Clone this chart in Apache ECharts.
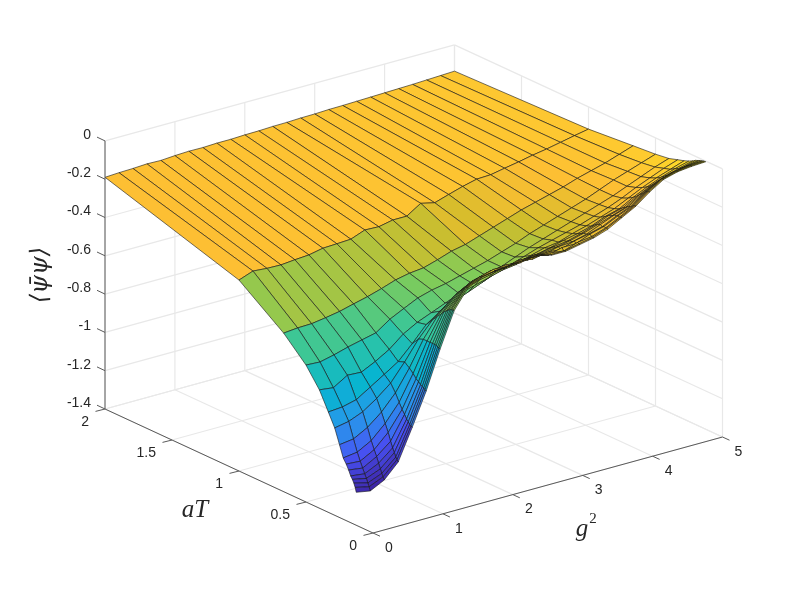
<!DOCTYPE html>
<html><head><meta charset="utf-8">
<style>html,body{margin:0;padding:0;background:#fff}#c{width:797px;height:598px}</style>
<script src="https://cdn.jsdelivr.net/npm/echarts@6/dist/echarts.min.js"></script>
</head><body><div id="c"></div>
<script>
const g2Values=[0,0.2,0.4,0.6,0.8,1,1.2,1.4,1.6,1.8,2,2.2,2.4,2.6,2.8,3,3.2,3.4,3.6,3.8,4,4.2,4.4,4.6,4.8,5];
const aTValues=[2,1,0.6667,0.5,0.4,0.3333,0.2857,0.25,0.2222,0.2,0.1818,0.1667,0.1538,0.1429,0.1333,0.125];
const zN1=[-.19,-.186,-.184,-.180,-.182,-.177,-.174,-.175,-.172,-.172,-.169,-.168,-.165,-.164,-.161,-.160,-.157,-.156,-.154,-.152,-.150,-.148,-.146,-.143,-.140,-.137];
const zN2=[-.403,-.376,-.382,-.384,-.377,-.372,-.357,-.354,-.35,-.322,-.325,-.31,-.31,-.263,-.28,-.257,-.235,-.217,-.214,-.20,-.187,-.172,-.16,-.145,-.13,-.116];
const zN3=[-.572,-.565,-.563,-.552,-.539,-.52,-.502,-.48,-.455,-.44,-.432,-.41,-.385,-.37,-.345,-.32,-.295,-.27,-.25,-.23,-.21,-.185,-.165,-.145,-.12,-.095];
const zN4=[-.685,-.689,-.672,-.651,-.634,-.617,-.566,-.53,-.495,-.474,-.46,-.44,-.42,-.40,-.375,-.35,-.32,-.295,-.27,-.245,-.22,-.19,-.16,-.135,-.11,-.085];
const zN5=[-.782,-.791,-.746,-.75,-.714,-.671,-.611,-.57,-.54,-.51,-.48,-.45,-.43,-.40,-.37,-.34,-.315,-.29,-.265,-.24,-.215,-.19,-.16,-.13,-.10,-.075];
const zN6=[-.876,-.87,-.852,-.806,-.76,-.713,-.64,-.56,-.51,-.48,-.45,-.42,-.39,-.37,-.345,-.32,-.30,-.28,-.26,-.235,-.21,-.18,-.145,-.115,-.085,-.06];
const zN7=[-.944,-.93,-.90,-.85,-.79,-.70,-.60,-.52,-.46,-.42,-.40,-.38,-.36,-.35,-.325,-.305,-.295,-.27,-.25,-.225,-.20,-.165,-.13,-.10,-.075,-.05];
const zN8=[-1.02,-1.01,-.97,-.91,-.83,-.72,-.59,-.49,-.42,-.385,-.36,-.345,-.33,-.32,-.31,-.295,-.275,-.26,-.24,-.21,-.19,-.15,-.115,-.085,-.06,-.04];
const zN9=[-1.08,-1.07,-1.03,-.96,-.87,-.74,-.59,-.47,-.39,-.35,-.33,-.32,-.315,-.30,-.295,-.28,-.27,-.25,-.225,-.195,-.175,-.135,-.10,-.07,-.05,-.03];
const zN10=[-1.105,-1.11,-1.07,-1.00,-.90,-.76,-.59,-.45,-.37,-.33,-.31,-.305,-.295,-.30,-.285,-.275,-.26,-.24,-.215,-.19,-.165,-.12,-.085,-.06,-.04,-.02];
const zN11=[-1.13,-1.14,-1.10,-1.04,-.92,-.77,-.59,-.44,-.355,-.32,-.30,-.285,-.29,-.28,-.285,-.265,-.26,-.24,-.21,-.18,-.155,-.11,-.07,-.045,-.03,-.015];
const zN12=[-1.156,-1.165,-1.13,-1.07,-.94,-.78,-.59,-.43,-.345,-.31,-.285,-.29,-.27,-.285,-.27,-.275,-.25,-.235,-.215,-.18,-.15,-.10,-.06,-.035,-.02,-.01];
const zN13=[-1.17,-1.185,-1.155,-1.09,-.95,-.785,-.59,-.425,-.335,-.30,-.28,-.27,-.28,-.26,-.28,-.26,-.26,-.23,-.21,-.175,-.145,-.09,-.05,-.025,-.015,-.008];
const zN14=[-1.186,-1.205,-1.175,-1.11,-.96,-.79,-.595,-.42,-.325,-.29,-.27,-.275,-.26,-.265,-.265,-.275,-.25,-.24,-.215,-.178,-.14,-.085,-.04,-.02,-.01,-.005];
const zN15=[-1.205,-1.222,-1.19,-1.12,-.965,-.795,-.597,-.42,-.322,-.288,-.275,-.268,-.262,-.255,-.27,-.27,-.255,-.24,-.213,-.176,-.137,-.082,-.037,-.017,-.008,-.004];
const zN16=[-1.228,-1.241,-1.204,-1.13,-.97,-.80,-.60,-.42,-.32,-.285,-.27,-.265,-.255,-.25,-.27,-.27,-.255,-.24,-.215,-.175,-.135,-.08,-.035,-.015,-.007,-.003];
const zRows=[zN1,zN2,zN3,zN4,zN5,zN6,zN7,zN8,zN9,zN10,zN11,zN12,zN13,zN14,zN15,zN16];
const g2Ticks=[0,1,2,3,4,5];
const aTTicks=[0,0.5,1,1.5,2];
const zTicks=[0,-0.2,-0.4,-0.6,-0.8,-1,-1.2,-1.4];
const zBottom=-1.4, g2Max=5, aTMax=2;

const view={ox:373,oy:533,gx:69.9,gy:-19.2,ax:-134,ay:-62,zy:-191.5};
const proj=(g,a,z)=>[view.ox+view.gx*g+view.ax*a, view.oy+view.gy*g+view.ay*a+view.zy*(z-zBottom)];

const parula=[[0,.2422,.1504,.6603],[.125,.2810,.3228,.9579],[.25,.1540,.5902,.9218],[.375,.0297,.7082,.8163],[.5,.1938,.7758,.6251],[.625,.5044,.7993,.3480],[.74,.8200,.7406,.1696],[.82,.9900,.7450,.2000],[.875,.9950,.7900,.1885],[1,.9769,.9839,.0805]];
const cMin=-1.22,cMax=0.03;
function colorOf(z){
  const t=Math.max(0,Math.min(1,(z-cMin)/(cMax-cMin)));
  let i=0; while(i<parula.length-2 && parula[i+1][0]<t) i++;
  const f=(t-parula[i][0])/(parula[i+1][0]-parula[i][0]);
  const c=[1,2,3].map(k=>Math.round(255*(parula[i][k]+(parula[i+1][k]-parula[i][k])*f)));
  return `rgb(${c[0]},${c[1]},${c[2]})`;
}

const quads=[];
for(let r=0;r<aTValues.length-1;r++){
  for(let c=g2Values.length-2;c>=0;c--){
    quads.push([g2Values[c],g2Values[c+1],aTValues[r],aTValues[r+1],zRows[r][c],zRows[r][c+1],zRows[r+1][c+1],zRows[r+1][c]]);
  }
}
const wallLines=[];
g2Ticks.forEach(g=>{wallLines.push([g,0,zBottom,g,aTMax,zBottom]);wallLines.push([g,aTMax,zBottom,g,aTMax,0]);});
aTTicks.forEach(a=>{wallLines.push([0,a,zBottom,g2Max,a,zBottom]);wallLines.push([g2Max,a,zBottom,g2Max,a,0]);});
zTicks.forEach(z=>{wallLines.push([0,aTMax,z,g2Max,aTMax,z]);wallLines.push([g2Max,0,z,g2Max,aTMax,z]);});
const axisLines=[[0,0,zBottom,0,aTMax,zBottom],[0,0,zBottom,g2Max,0,zBottom],[0,aTMax,zBottom,0,aTMax,0]];

const FONT='14px "Liberation Sans",Arial,sans-serif', COL='#262626';
const labels=[];
g2Ticks.forEach(g=>{const p=proj(g,0,zBottom);labels.push([String(g),p[0]+16,p[1]+15,'center']);});
aTTicks.forEach(a=>{const p=proj(0,a,zBottom);labels.push([String(a),p[0]-16,p[1]+13,'right']);});
zTicks.forEach(z=>{const p=proj(0,aTMax,z);labels.push([String(z),p[0]-14,p[1]-6,'right']);});

const chart=echarts.init(document.getElementById('c'),null,{renderer:'canvas'});
const seg=(api,v,style)=>{
  const a=proj(v[0],v[1],v[2]),b=proj(v[3],v[4],v[5]);
  return {type:'line',shape:{x1:a[0],y1:a[1],x2:b[0],y2:b[1]},style:style,silent:true};
};
chart.setOption({
  animation:false,
  backgroundColor:'#fff',
  grid:{left:0,right:0,top:0,bottom:0},
  xAxis:{type:'value',min:0,max:797,show:false},
  yAxis:{type:'value',min:0,max:598,inverse:true,show:false},
  series:[
    {type:'custom',coordinateSystem:'cartesian2d',clip:false,silent:true,data:wallLines,
     renderItem:(p,api)=>seg(api,[0,1,2,3,4,5].map(i=>api.value(i)),{stroke:'#e8e8e8',lineWidth:1.2,fill:null})},
    {type:'custom',coordinateSystem:'cartesian2d',clip:false,silent:true,data:quads,
     renderItem:(p,api)=>{
       const g0=api.value(0),g1=api.value(1),a0=api.value(2),a1=api.value(3);
       const z00=api.value(4),z10=api.value(5),z11=api.value(6),z01=api.value(7);
       return {type:'polygon',silent:true,shape:{points:[proj(g0,a0,z00),proj(g1,a0,z10),proj(g1,a1,z11),proj(g0,a1,z01)]},
         style:{fill:colorOf(z00),stroke:'rgba(20,20,20,0.75)',lineWidth:0.8}};
     }},
    {type:'custom',coordinateSystem:'cartesian2d',clip:false,silent:true,data:axisLines,
     renderItem:(p,api)=>seg(api,[0,1,2,3,4,5].map(i=>api.value(i)),{stroke:'#5a5a5a',lineWidth:1,fill:null})},
    {type:'custom',coordinateSystem:'cartesian2d',clip:false,silent:true,
     data:[...g2Ticks.map(g=>[0,g]),...aTTicks.map(a=>[1,a]),...zTicks.map(z=>[2,z])],
     renderItem:(p,api)=>{
       const k=api.value(0),v=api.value(1);
       const q=k===0?proj(v,0,zBottom):k===1?proj(0,v,zBottom):proj(0,aTMax,v);
       const d=k===0?[7,3.2]:k===1?[-9.5,2.4]:[-8,-3.8];
       return {type:'line',silent:true,shape:{x1:q[0],y1:q[1],x2:q[0]+d[0],y2:q[1]+d[1]},style:{stroke:'#5a5a5a',lineWidth:1,fill:null}};
     }},
    {type:'custom',coordinateSystem:'cartesian2d',clip:false,silent:true,
     data:labels.map((l,i)=>[i]),
     renderItem:(p,api)=>{const l=labels[api.value(0)];
       return {type:'text',silent:true,style:{text:l[0],x:l[1],y:l[2],align:l[3],verticalAlign:'middle',font:FONT,fill:COL}};}}
  ],
  graphic:[
    {type:'text',style:{text:'aT',x:195,y:510,align:'center',verticalAlign:'middle',font:'italic 25px "Liberation Serif",serif',fill:COL}},
    {type:'text',style:{text:'g',x:582,y:529,align:'center',verticalAlign:'middle',font:'italic 25px "Liberation Serif",serif',fill:COL}},
    {type:'text',style:{text:'2',x:593,y:519,align:'center',verticalAlign:'middle',font:'15px "Liberation Serif",serif',fill:COL}},
    {type:'text',x:41,y:275,rotation:Math.PI/2,style:{text:'\u27E8\u03C8\u0304\u03C8\u27E9',x:0,y:0,align:'center',verticalAlign:'middle',font:'italic 24px "DejaVu Serif",serif',fill:COL}}
  ]
});
</script></body></html>
